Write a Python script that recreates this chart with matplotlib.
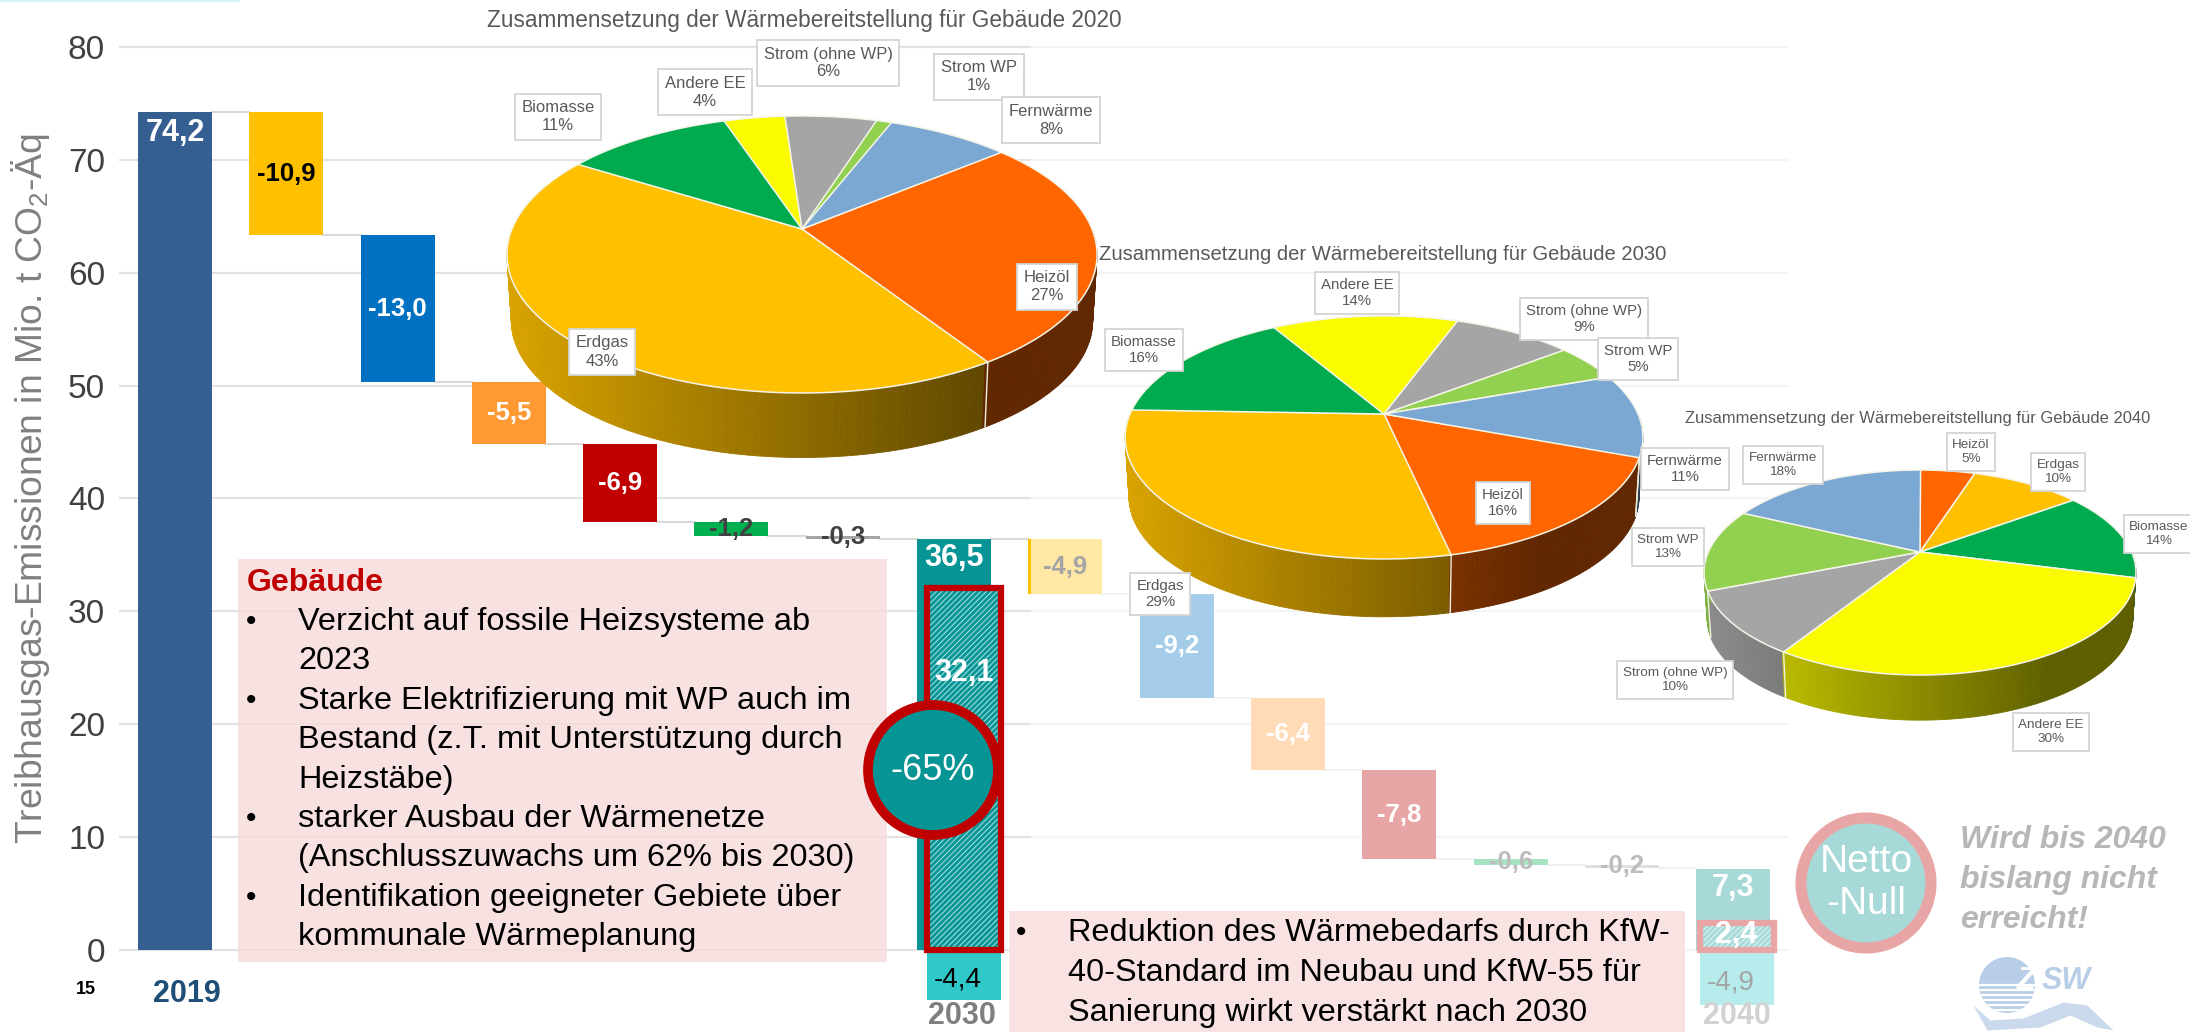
import numpy as np
import matplotlib
matplotlib.use('Agg')
import matplotlib.pyplot as plt
from matplotlib.patches import Rectangle, Circle

plt.rcParams['font.family'] = ['Liberation Sans', 'DejaVu Sans']
plt.rcParams['mathtext.default'] = 'regular'
plt.rcParams['hatch.linewidth'] = 0.8

W, H = 2190, 1032
X0, DX = 175, 111.3     # pixel of first bar, pixels per category
Y0, DY = 950, 11.29     # pixel of zero, pixels per Mt

start_2019 = 74.2
deltas_2030 = [-10.9, -13.0, -5.5, -6.9, -1.2, -0.3]
deltas_2040 = [-4.9, -9.2, -6.4, -7.8, -0.6, -0.2]
delta_colors = ['#FFC000', '#0070C0', '#FF9933', '#C00000', '#00B050', '#A5A5A5']
delta_text = ['black', 'white', 'white', 'white', '#404040', '#404040']
total_2030 = 36.5
total_2040 = 7.3
target_2030 = 32.1
target_2040 = 2.4
compensated_2030 = -4.4
compensated_2040 = -4.9
yticks = [0, 10, 20, 30, 40, 50, 60, 70, 80]

names = ['Heizöl', 'Erdgas', 'Biomasse', 'Andere EE', 'Strom (ohne WP)', 'Strom WP', 'Fernwärme']
pie_colors = ['#FF6600', '#FFC000', '#00AB50', '#FAFA00', '#A5A5A5', '#92D050', '#7BA7D3']
shares_2020 = [27, 43, 11, 4, 6, 1, 8]
shares_2030 = [16, 29, 16, 14, 9, 5, 11]
shares_2040 = [5, 10, 14, 30, 10, 13, 18]

TEAL = '#079494'
RED = '#C00000'
LOGO = '#3573B9'

fig = plt.figure(figsize=(W / 100, H / 100), dpi=100)
ax = fig.add_axes([119 / W, 0, (1789 - 119) / W, 1], zorder=1)
ax.set_xlim((119 - X0) / DX, (1789 - X0) / DX)
ax.set_ylim((Y0 - H) / DY, Y0 / DY)
for s in ax.spines.values():
    s.set_visible(False)
ax.set_xticks([])
ax.set_yticks(yticks)
ax.tick_params(axis='y', length=0, pad=10, labelsize=24, labelcolor='#404040')
ax.grid(axis='y', color='#E2E2E2', linewidth=1.5)
ax.set_axisbelow(True)
ax.set_ylabel('Treibhausgas-Emissionen in Mio. t CO$_2$-Äq', fontsize=26.8, color='#808080')
ax.yaxis.set_label_coords((52 - 119) / (1789 - 119), (H - 488) / H)

BW = 74 / DX


def fmt(v):
    return f'{v:.1f}'.replace('.', ',')


def waterfall(first, start, deltas):
    level = start
    for i, d in enumerate(deltas):
        x = first + i
        ax.plot([x - 1 + BW / 2, x - BW / 2], [level, level], color='#D9D9D9', lw=1.5, zorder=2)
        ax.bar(x, -d, bottom=level + d, width=BW, color=delta_colors[i], zorder=3)
        ax.text(x, level + d / 2, fmt(d), ha='center', va='center', fontsize=18.5,
                fontweight='bold', color=delta_text[i], zorder=4)
        level += d
    ax.plot([first + len(deltas) - 1 + BW / 2, first + len(deltas) - BW / 2], [level, level],
            color='#D9D9D9', lw=1.5, zorder=2)


ax.bar(0, start_2019, width=BW, color='#355F90', zorder=3)
ax.text(0, start_2019 - 1.8, fmt(start_2019), ha='center', va='center', fontsize=22,
        fontweight='bold', color='white', zorder=4)
waterfall(1, start_2019, deltas_2030)
waterfall(8, total_2030 - 0.1, deltas_2040)


def total_bar(x, total, target, comp, x2, label_y):
    ax.bar(x, total - 0.1, width=BW, color=TEAL, zorder=3)
    ax.text(x, total - 1.8, fmt(total), ha='center', va='center', fontsize=22,
            fontweight='bold', color='white', zorder=6)
    ax.bar(x2, target, width=BW, color=TEAL, edgecolor='#9ADCDC', hatch='//////', linewidth=0, zorder=4)
    ax.bar(x2, target, width=BW, fill=False, edgecolor=RED, linewidth=4.5, zorder=5)
    ax.text(x2, label_y, fmt(target), ha='center', va='center',
            fontsize=22, fontweight='bold', color='white', zorder=6)
    ax.bar(x2, comp, width=BW, color='#30C9C9', zorder=3)
    ax.text(x2 - 0.05, comp / 2 - 0.4, fmt(comp), ha='center', va='center', fontsize=20,
            color='black', zorder=4)


total_bar(7, total_2030, target_2030, compensated_2030, 7.085, 24.5)
total_bar(14, total_2040, target_2040, compensated_2040, 14.03, 1.3)

ax.text(0.11, (Y0 - 994) / DY, '2019', ha='center', va='center', fontsize=22, fontweight='bold', color='#1F4E79')
ax.text(7.07, (Y0 - 1016) / DY, '2030', ha='center', va='center', fontsize=22, fontweight='bold', color='#7F7F7F')
ax.text(14.03, (Y0 - 1016) / DY, '2040', ha='center', va='center', fontsize=22, fontweight='bold', color='#7F7F7F')
ax.text(-0.8, (Y0 - 989) / DY, '15', ha='center', va='center', fontsize=13, fontweight='bold', color='black')

# pixel overlay for everything which is not on the value axis
ov = fig.add_axes([0, 0, 1, 1], zorder=2)
ov.set_xlim(0, W)
ov.set_ylim(H, 0)
ov.axis('off')

ov.add_patch(Rectangle((0, 0), 240, 2, fc='#D5F5F8', ec='none'))

# faded part of the slide
ov.add_patch(Circle((1866, 883), 65, fc=TEAL, ec=RED, lw=8, zorder=0.5))
ov.text(1866, 883, 'Netto\n-Null', ha='center', va='center', fontsize=28, color='white', zorder=0.6, linespacing=1.2)
for y, line in zip([840, 880, 920], ['Wird bis 2040', 'bislang nicht', 'erreicht!']):
    ov.text(1960, y, line, ha='left', va='center', fontsize=23, style='italic', fontweight='bold',
            color='#333333', zorder=0.6)

# zsw logo
disc = Circle((2007, 985), 28, fc=LOGO, ec='none', zorder=0.5)
ov.add_patch(disc)
for y in np.arange(985, 1014, 5):
    stripe, = ov.plot([1975, 2040], [y, y], color='white', lw=1.6, zorder=0.55)
    stripe.set_clip_path(disc)
wave_x = np.arange(1973, 2114, 1.0)
wave_top = np.interp(wave_x, [1973, 1990, 2023, 2063, 2087, 2113], [1005, 1020, 1018, 1002, 1005, 1030])
wave_low = np.interp(wave_x, [1973, 1987, 2040, 2070, 2097, 2113], [1005, 1030, 1027, 1015, 1027, 1030])
ov.fill_between(wave_x, wave_top, wave_low, color=LOGO, alpha=0.75, lw=0, zorder=0.5)
ov.text(2026, 981, 'Z', ha='center', va='center', fontsize=22, style='italic', fontweight='bold',
        color='white', zorder=1.5)
ov.text(2066, 981, 'SW', ha='center', va='center', fontsize=22, style='italic', fontweight='bold',
        color=LOGO, zorder=0.6)
ov.add_patch(Rectangle((1031, 0), W - 1031, H, fc='white', alpha=0.65, ec='none', zorder=1))

# text boxes
ov.add_patch(Rectangle((238, 559), 649, 403, fc='#F6DCDC', alpha=0.85, ec='none', zorder=2))
ov.add_patch(Rectangle((1009, 911), 676, 121, fc='#F8E2E2', ec='none', zorder=2))
ov.text(247, 583, 'Gebäude', fontsize=23, fontweight='bold', color=RED, va='center', zorder=3)

box_lines = ['Verzicht auf fossile Heizsysteme ab', '2023', 'Starke Elektrifizierung mit WP auch im',
             'Bestand (z.T. mit Unterstützung durch', 'Heizstäbe)', 'starker Ausbau der Wärmenetze',
             '(Anschlusszuwachs um 62% bis 2030)', 'Identifikation geeigneter Gebiete über',
             'kommunale Wärmeplanung']
box_bullets = [0, 2, 5, 7]
for i, line in enumerate(box_lines):
    y = 622 + i * 39.4
    ov.text(298, y, line, fontsize=23.4, color='black', va='center', zorder=3)
    if i in box_bullets:
        ov.text(251, y, '•', fontsize=21.5, color='black', ha='center', va='center', zorder=3)

box2_lines = ['Reduktion des Wärmebedarfs durch KfW-', '40-Standard im Neubau und KfW-55 für',
              'Sanierung wirkt verstärkt nach 2030']
for i, line in enumerate(box2_lines):
    ov.text(1068, 933 + i * 40, line, fontsize=23.4, color='black', va='center', zorder=3)
ov.text(1021, 933, '•', fontsize=21.5, color='black', ha='center', va='center', zorder=3)

ov.add_patch(Circle((933, 770), 65, fc=TEAL, ec=RED, lw=7, zorder=4))
ov.text(933, 770, '-65%', fontsize=26, color='white', ha='center', va='center', zorder=5)


def draw_pie(shares, cx, cy, sx, sy, k, depth, start, z):
    # circle seen in perspective, the far half is squeezed
    def rim(theta, scale=1.0, drop=0.0):
        t = np.radians(theta)
        w = 1 + k * np.cos(t)
        return cx + scale * sx * np.sin(t) / w, cy - scale * sy * np.cos(t) / w + drop

    edges = start + np.cumsum([0] + list(shares)) * 3.6
    half = sx / np.sqrt(1 - k * k)

    # side wall, shaded left to right
    for th in np.arange(90, 270, 1.0):
        th0 = th + 360 if th < start else th
        idx = min(np.searchsorted(edges, th0, side='right') - 1, len(shares) - 1)
        ts = np.array([th, th + 1.0])
        x1, y1 = rim(ts)
        x2, y2 = rim(ts, 0.985, depth)
        t = (x1.mean() - (cx - half)) / (2 * half)
        f = max(0.38, 0.85 - 0.47 * t / 0.8)
        col = np.array(matplotlib.colors.to_rgb(pie_colors[idx])) * f
        ov.fill([x1[0], x1[1], x2[1], x2[0]], [y1[0], y1[1], y2[1], y2[0]], color=col, lw=0.6, zorder=z)
    for e in edges:
        e = e % 360
        if 105 < e < 255:
            x1, y1 = rim(e)
            x2, y2 = rim(e, 0.985, depth)
            ov.plot([x1, x2], [y1, y2], color='#F0F0E0', lw=1, zorder=z + 0.1)

    # top
    for i in range(len(shares)):
        ts = np.arange(edges[i], edges[i + 1] + 0.5, 0.5)
        x, y = rim(ts)
        ov.fill(np.r_[cx, x], np.r_[cy, y], facecolor=pie_colors[i], edgecolor='#F4F4E8', lw=1.1, zorder=z + 0.2)


def pie_labels(shares, spots, size, z):
    for name, share, (x, y) in zip(names, shares, spots):
        ov.text(x, y, f'{name}\n{share}%', ha='center', va='center', fontsize=size, color='#595959', zorder=z,
                linespacing=1.25, bbox=dict(boxstyle='square,pad=0.4', fc='white', ec='#D4D4D4', lw=1.3))


draw_pie(shares_2020, 802, 229, 290, 133.8, 0.184, 67, 50, 10)
draw_pie(shares_2030, 1384, 414, 254, 117, 0.193, 60, 110, 12)
draw_pie(shares_2040, 1920, 552, 211.6, 98.4, 0.2, 47, 0, 14)

pie_labels(shares_2020, [(1047, 287), (602, 352), (558, 117), (705, 92), (828, 63), (979, 77), (1051, 120)], 12, 11)
pie_labels(shares_2030, [(1503, 503), (1160, 594), (1144, 350), (1357, 293), (1584, 319), (1638, 359), (1685, 469)], 10.8, 13)
pie_labels(shares_2040, [(1971, 452), (2058, 472), (2159, 534), (2051, 732), (1675, 680), (1668, 547), (1783, 465)], 9.7, 15)

title = 'Zusammensetzung der Wärmebereitstellung für Gebäude '
ov.text(804, 20, title + '2020', ha='center', va='center', fontsize=16.3, color='#595959', zorder=16)
ov.text(1383, 255, title + '2030', ha='center', va='center', fontsize=14.6, color='#595959', zorder=16)
ov.text(1918, 419, title + '2040', ha='center', va='center', fontsize=11.9, color='#595959', zorder=16)

fig.savefig('out.png', dpi=100)
